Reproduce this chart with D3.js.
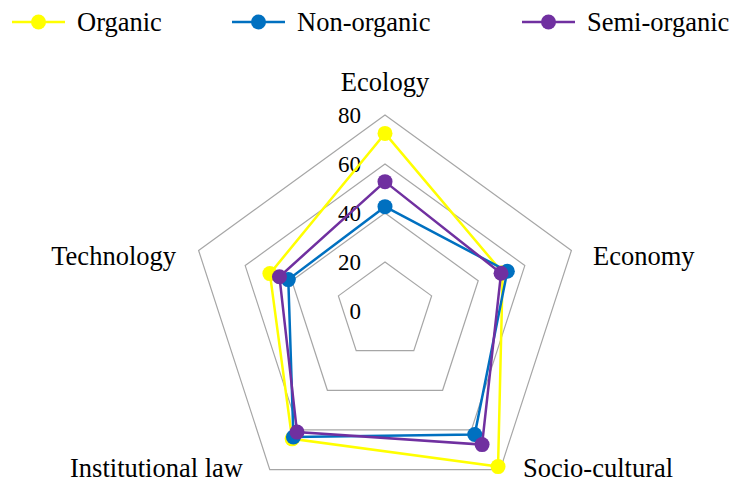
<!DOCTYPE html>
<html>
<head>
<meta charset="utf-8">
<script src="https://cdn.jsdelivr.net/npm/d3@7"></script>
<style>
  body { margin: 0; background: #fff; }
  text { font-family: "Liberation Serif", "Times New Roman", serif; fill: #000; }
</style>
</head>
<body>
<div id="chart"></div>
<script>
// Data
const categories = ["Ecology", "Economy", "Socio-cultural", "Institutional law", "Technology"]
const seriesNames = ["Organic", "Non-organic", "Semi-organic"]
const organic = [72.5, 50.5, 78.5, 64.5, 49.4]
const nonOrganic = [42.6, 52.5, 62.3, 63.6, 41.5]
const semiOrganic = [52.8, 49.8, 67.4, 61.1, 45.3]
const ticks = [0, 20, 40, 60, 80]

const colors = ["#ffff00", "#0070c0", "#7030a0"]

// Constants
const width = 730
const height = 484
const cx = 385
const cy = 311
const radius = 196

const svg = d3.select("#chart")
    .append("svg")
    .attr("width", width)
    .attr("height", height)

const r = d3.scaleLinear()
    .domain([0, 80])
    .range([0, radius])

const angle = d3.scaleLinear()
    .domain([0, categories.length])
    .range([-Math.PI / 2, 3 * Math.PI / 2])

const pt = (i, v) => [cx + r(v) * Math.cos(angle(i)), cy + r(v) * Math.sin(angle(i))]

// Grid pentagons
const gridGroup = svg.append("g").attr("id", "grid")
ticks.filter(t => t > 0).forEach(t => {
    gridGroup.append("path")
        .attr("d", d3.line()(categories.map((c, i) => pt(i, t))) + "Z")
        .attr("fill", "none")
        .attr("stroke", "#a6a6a6")
        .attr("stroke-width", 1.2)
})

// Tick labels
svg.append("g").selectAll("text")
    .data(ticks)
    .enter()
    .append("text")
    .attr("x", cx - 24)
    .attr("y", d => cy - r(d))
    .attr("dy", "0.35em")
    .attr("text-anchor", "end")
    .style("font-size", "23px")
    .text(d => d)

// Category labels
const labelPos = [
    { x: 385, y: 82, anchor: "middle" },
    { x: 593, y: 256, anchor: "start" },
    { x: 523, y: 468, anchor: "start" },
    { x: 243, y: 468, anchor: "end" },
    { x: 176, y: 256, anchor: "end" }
]
svg.append("g").selectAll("text")
    .data(categories)
    .enter()
    .append("text")
    .attr("x", (d, i) => labelPos[i].x)
    .attr("y", (d, i) => labelPos[i].y)
    .attr("dy", "0.35em")
    .attr("text-anchor", (d, i) => labelPos[i].anchor)
    .style("font-size", "26.5px")
    .text(d => d)

// Series
const allSeries = [organic, nonOrganic, semiOrganic]
const seriesGroup = svg.append("g").attr("id", "series")
allSeries.forEach((vals, s) => {
    const pts = vals.map((v, i) => pt(i, v))
    seriesGroup.append("path")
        .attr("d", d3.line()(pts) + "Z")
        .attr("fill", "none")
        .attr("stroke", colors[s])
        .attr("stroke-width", 2.5)
    seriesGroup.selectAll(".m" + s)
        .data(pts)
        .enter()
        .append("circle")
        .attr("class", "m" + s)
        .attr("cx", d => d[0])
        .attr("cy", d => d[1])
        .attr("r", 7.5)
        .attr("fill", colors[s])
})

// Legend
const legendX = [12, 232, 522]
const legend = svg.append("g").attr("id", "legend")
seriesNames.forEach((name, s) => {
    const g = legend.append("g").attr("transform", `translate(${legendX[s]}, 22)`)
    g.append("line")
        .attr("x1", 0).attr("x2", 53)
        .attr("y1", 0).attr("y2", 0)
        .attr("stroke", colors[s])
        .attr("stroke-width", 2.5)
    g.append("circle")
        .attr("cx", 26.5).attr("cy", 0)
        .attr("r", 7.5)
        .attr("fill", colors[s])
    g.append("text")
        .attr("x", 65)
        .attr("y", 0)
        .attr("dy", "0.35em")
        .style("font-size", "26.5px")
        .text(name)
})
</script>
</body>
</html>
